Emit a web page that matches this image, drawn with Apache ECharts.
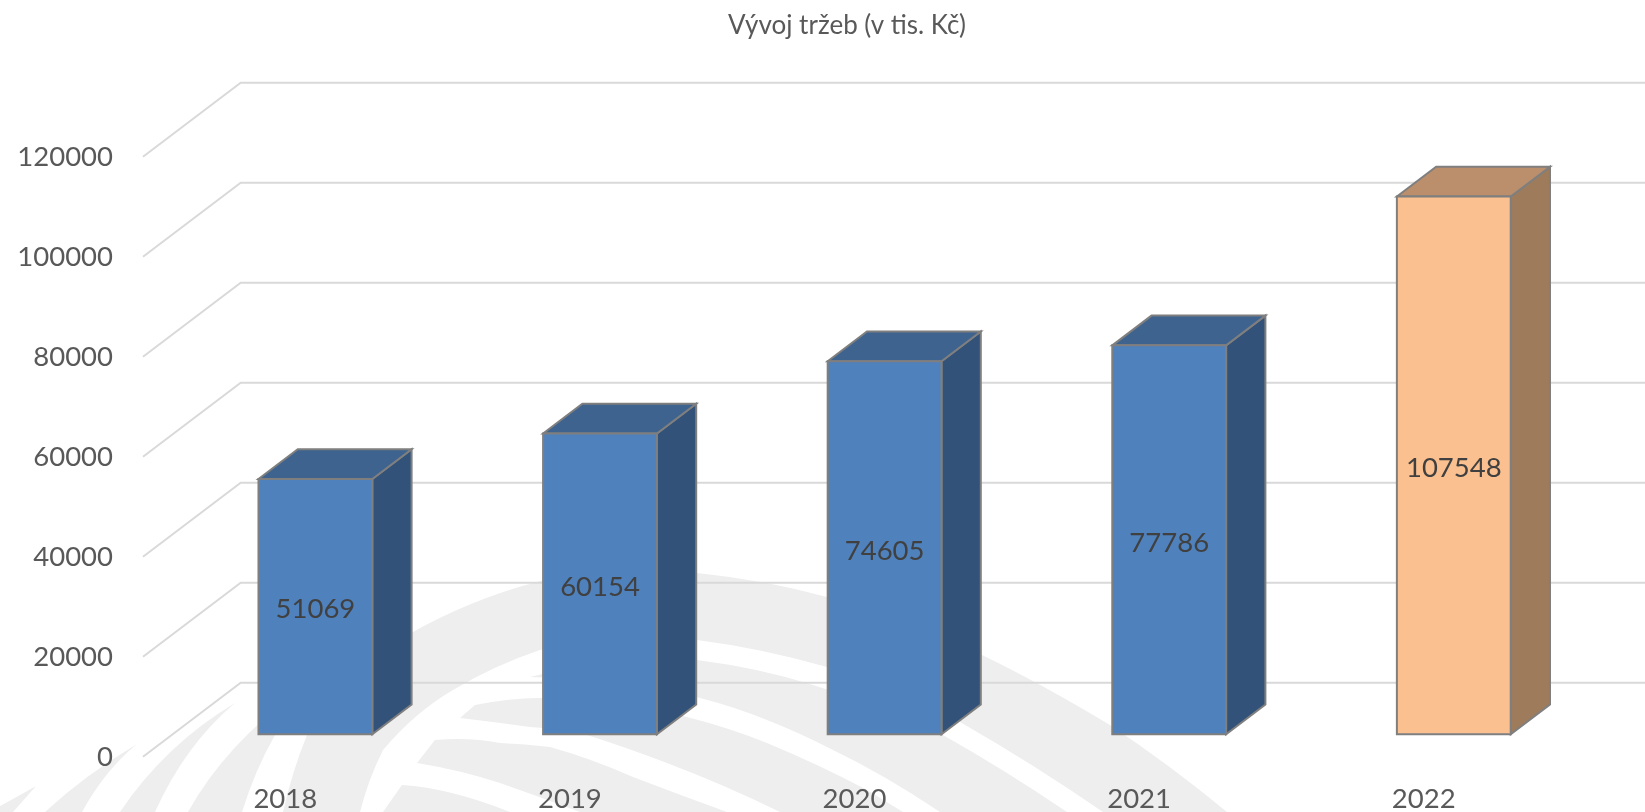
<!DOCTYPE html>
<html>
<head>
<meta charset="utf-8">
<title>Vývoj tržeb</title>
<script src="https://cdn.jsdelivr.net/npm/echarts@6/dist/echarts.min.js"></script>
<style>
  html, body { margin: 0; padding: 0; background: #fff; }
  #main { width: 1645px; height: 812px; }
</style>
</head>
<body>
<div id="main"></div>
<script>
var years = ['2018', '2019', '2020', '2021', '2022'];
var revenue = [51069, 60154, 74605, 77786, 107548];
var yTicks = [0, 20000, 40000, 60000, 80000, 100000, 120000];

var FONT = 'Lato, "Noto Sans", sans-serif';

// fake 3D: the floor runs this many px right / up from the axis plane
var DEPTH_X = 97.7;
var DEPTH_Y = 74;
// bars stand between these fractions of the floor depth
var BAR_FRONT = 0.303;
var BAR_BACK = 0.705;
var BAR_WIDTH = 0.4; // share of the category band

var blue = { face: '#4f81bd', side: '#325279', top: '#3e638f' };
var peach = { face: '#fac090', side: '#9e7b5b', top: '#bc8f6c' };
var edge = '#7f7f7f';

// grey logo behind the plot, only decoration
var watermark = [
    'M36,786 Q15,798 0,806 L0,812 L13,812 Z',
    'M137,744 Q85,775 45,812 L82,812 Q105,770 137,744 Z',
    'M235,703 Q165,745 120,812 L155,812 Q185,745 235,703 Z',
    'M300,690 Q225,745 188,812 L242,812 Q255,770 275,735 L300,700 Z',
    'M283,812 Q292,772 307,735 L340,680 Q375,650 411,633 Q470,600 533,583 Q615,560 697,573 Q765,580 827,597 Q905,620 982,655 Q1040,683 1110,725 Q1170,765 1227,812 ' +
        'L1103,812 Q1035,765 960,722 Q895,685 827,667 Q760,648 697,640 Q620,633 540,650 Q495,665 453,690 Q415,712 383,750 Q368,780 360,812 Z',
    'M530,677 Q620,655 697,660 Q760,668 813,685 Q880,705 943,735 Q1005,770 1067,812 L940,812 Q885,775 833,750 Q800,733 767,720 Q735,707 700,698 Q640,680 530,677 Z',
    'M460,718 L475,705 Q510,698 540,698 Q620,698 687,717 Q730,728 767,743 Q820,765 867,790 L903,812 L780,812 Q725,785 667,763 Q625,747 587,735 Q555,728 530,727 Q495,722 460,718 Z',
    'M417,763 L435,740 Q470,737 500,743 Q525,744 550,747 Q590,758 633,777 Q680,795 727,812 L580,812 Q540,797 500,783 Q460,770 417,763 Z',
    'M402,785 Q450,788 510,812 L383,812 Z'
];

function renderWatermark() {
    return {
        type: 'group',
        children: watermark.map(function (d) {
            return { type: 'path', shape: { pathData: d }, style: { fill: '#eeeeee' } };
        })
    };
}

function renderGridLine(params, api) {
    var band = api.size([1, 0])[0];
    var first = api.coord([0, api.value(0)]);
    var last = api.coord([years.length - 1, api.value(0)]);
    var x0 = first[0] - band / 2;
    var y = first[1];
    return {
        type: 'polyline',
        shape: {
            points: [
                [x0, y],
                [x0 + DEPTH_X, y - DEPTH_Y],
                [last[0] + band / 2 + DEPTH_X, y - DEPTH_Y]
            ]
        },
        style: { stroke: '#d9d9d9', lineWidth: 2, fill: 'none' }
    };
}

function renderBar(params, api) {
    var i = api.value(0);
    var v = api.value(1);
    var base = api.coord([i, 0]);
    var top = api.coord([i, v]);
    var w = api.size([1, 0])[0] * BAR_WIDTH;
    var colors = i === years.length - 1 ? peach : blue;

    var fx = base[0] + DEPTH_X * BAR_FRONT - w / 2 + 0.5;
    var lift = DEPTH_Y * BAR_FRONT;
    var bx = DEPTH_X * (BAR_BACK - BAR_FRONT);
    var by = DEPTH_Y * (BAR_BACK - BAR_FRONT);
    var x1 = fx, x2 = fx + w;
    var yTop = top[1] - lift, yBase = base[1] - lift;

    function face(points, fill) {
        return {
            type: 'polygon',
            shape: { points: points },
            style: { fill: fill, stroke: edge, lineWidth: 2, lineJoin: 'miter' }
        };
    }

    return {
        type: 'group',
        children: [
            face([[x2, yTop], [x2 + bx, yTop - by], [x2 + bx, yBase - by], [x2, yBase]], colors.side),
            face([[x1, yTop], [x1 + bx, yTop - by], [x2 + bx, yTop - by], [x2, yTop]], colors.top),
            face([[x1, yTop], [x2, yTop], [x2, yBase], [x1, yBase]], colors.face),
            {
                type: 'text',
                style: {
                    text: String(v),
                    x: (x1 + x2) / 2,
                    y: (yTop + yBase) / 2 + 3,
                    align: 'center',
                    verticalAlign: 'middle',
                    fill: '#404040',
                    font: '27.5px ' + FONT
                }
            }
        ]
    };
}

var myChart = echarts.init(document.getElementById('main'));

myChart.setOption({
    animation: false,
    backgroundColor: '#fff',
    title: {
        text: 'Vývoj tržeb (v tis. Kč)',
        left: 842,
        top: 8,
        textAlign: 'center',
        textStyle: { color: '#595959', fontSize: 26, fontWeight: 'normal', fontFamily: FONT }
    },
    grid: {
        left: 143,
        top: 156.7,
        width: 1423,
        height: 600,
        outerBoundsMode: 'none'
    },
    xAxis: {
        type: 'category',
        data: years,
        axisLine: { show: false },
        axisTick: { show: false },
        axisLabel: { color: '#595959', fontSize: 27.5, fontFamily: FONT, margin: 28 }
    },
    yAxis: {
        type: 'value',
        min: yTicks[0],
        max: yTicks[yTicks.length - 1],
        interval: yTicks[1] - yTicks[0],
        axisLine: { show: false },
        axisTick: { show: false },
        splitLine: { show: false },
        axisLabel: {
            color: '#595959',
            fontSize: 27.5,
            fontFamily: FONT,
            margin: 30,
            padding: [8, 0, 0, 0],
            formatter: function (value) { return String(value); }
        }
    },
    series: [
        {
            type: 'custom',
            z: 0,
            silent: true,
            renderItem: renderWatermark,
            data: [[0, 0]]
        },
        {
            type: 'custom',
            z: 1,
            silent: true,
            renderItem: renderGridLine,
            encode: { y: 0 },
            data: yTicks.map(function (t) { return [t]; })
        },
        {
            type: 'custom',
            z: 2,
            renderItem: renderBar,
            encode: { x: 0, y: 1 },
            data: revenue.map(function (v, i) { return [i, v]; })
        }
    ]
});
</script>
</body>
</html>
